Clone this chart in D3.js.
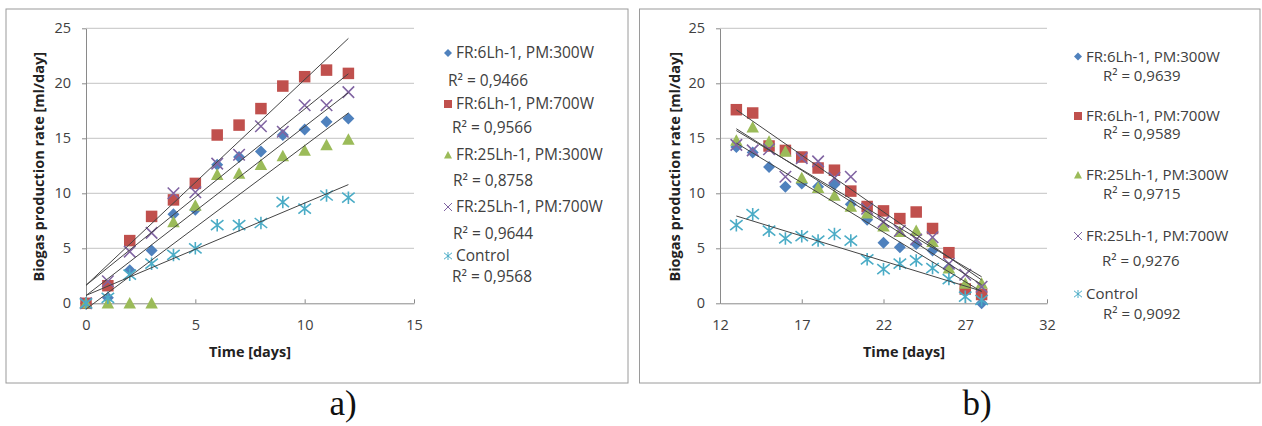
<!DOCTYPE html>
<html><head><meta charset="utf-8">
<script src="https://cdn.jsdelivr.net/npm/d3@7"></script>
<style>body{margin:0;background:#fff}svg{display:block}</style>
</head><body><svg id="c" width="1262" height="426"></svg>
<script>
// ---------------- DATA ----------------
const seriesLabels = ["FR:6Lh-1, PM:300W", "FR:6Lh-1, PM:700W", "FR:25Lh-1, PM:300W", "FR:25Lh-1, PM:700W", "Control"];

// Panel a) – start-up period
const daysA = [0, 1, 2, 3, 4, 5, 6, 7, 8, 9, 10, 11, 12];
const a_FR6_PM300  = [0, 0.5, 3.0, 4.8, 8.1, 8.5, 12.6, 13.3, 13.8, 15.3, 15.8, 16.5, 16.8];
const a_FR6_PM700  = [0, 1.6, 5.7, 7.9, 9.4, 10.9, 15.3, 16.2, 17.7, 19.75, 20.6, 21.2, 20.9];
const a_FR25_PM300 = [0, 0, 0, 0, 7.4, 8.9, 11.7, 11.8, 12.6, 13.4, 13.9, 14.4, 14.9];
const a_FR25_PM700 = [0, 2.0, 4.7, 6.4, 10.0, 10.1, 12.7, 13.5, 16.1, 15.6, 18.0, 18.0, 19.2];
const a_Control    = [0, 0.5, 2.6, 3.6, 4.4, 5.0, 7.1, 7.1, 7.3, 9.2, 8.6, 9.8, 9.6];
const r2A = ["0,9466", "0,9566", "0,8758", "0,9644", "0,9568"];
const xTicksA = [0, 5, 10, 15];

// Panel b) – decline period
const daysB = [13, 14, 15, 16, 17, 18, 19, 20, 21, 22, 23, 24, 25, 26, 27, 28];
const b_FR6_PM300  = [14.2, 13.7, 12.4, 10.6, 10.9, 10.6, 10.8, 9.0, 7.6, 5.5, 5.1, 5.4, 4.8, 3.2, 1.2, 0.0];
const b_FR6_PM700  = [17.6, 17.3, 14.3, 13.9, 13.3, 12.3, 12.1, 10.2, 8.8, 8.4, 7.7, 8.3, 6.8, 4.6, 1.3, 0.8];
const b_FR25_PM300 = [14.8, 16.0, 14.7, 13.8, 11.4, 10.5, 9.8, 8.8, 8.2, 7.0, 6.5, 6.6, 5.6, 3.2, 1.8, 1.8];
const b_FR25_PM700 = [14.4, 13.9, 14.0, 11.5, 13.2, 12.9, 11.4, 11.5, 8.6, 7.4, 6.6, 5.8, 6.0, 3.6, 2.6, 1.5];
const b_Control    = [7.1, 8.1, 6.6, 5.9, 6.1, 5.7, 6.3, 5.7, 4.0, 3.1, 3.6, 3.9, 3.2, 2.2, 0.6, 0.3];
const r2B = ["0,9639", "0,9589", "0,9715", "0,9276", "0,9092"];
const xTicksB = [12, 17, 22, 27, 32];

const yTicks = [0, 5, 10, 15, 20, 25];

// ---------------- STYLE / LAYOUT ----------------
const colors = ["#4F81BD", "#C0504D", "#9BBB59", "#8064A2", "#4BACC6"];
const shapes = ["diamond", "square", "triangle", "x", "star"];
const FONT = "'Open Sans', Lato, sans-serif";

const panels = [
  { frame: [6, 9, 628, 383], xDomain: [0, 15], xRange: [86, 414], yRange: [303.3, 28.3],
    days: daysA, series: [a_FR6_PM300, a_FR6_PM700, a_FR25_PM300, a_FR25_PM700, a_Control], r2: r2A, xTicks: xTicksA,
    yTitleX: 39, xTitleX: 250, tag: "a)", tagX: 343, legendWidth: 138,
    legend: { mx: 448, tx: 456, ty: [53, 104, 155, 207, 256], rx: [448, 452, 453, 453, 452], ry: [81, 128, 181, 234, 277] } },
  { frame: [639.5, 9, 1260, 383], xDomain: [12, 32], xRange: [720, 1047], yRange: [303.3, 28.3],
    days: daysB, series: [b_FR6_PM300, b_FR6_PM700, b_FR25_PM300, b_FR25_PM700, b_Control], r2: r2B, xTicks: xTicksB,
    yTitleX: 675, xTitleX: 904, tag: "b)", tagX: 977, legendWidth: 134,
    legend: { mx: 1078, tx: 1086, ty: [56.5, 116, 175, 236, 294], rx: [1103, 1103, 1103, 1102, 1103], ry: [76, 134, 194, 261, 314] } }
];

const svg = d3.select("#c");

// font size that makes a reference string span a target width
function fitSize(str, weight, target) {
  const t = svg.append("text").attr("font-family", FONT).attr("font-weight", weight).attr("font-size", 100).text(str);
  const w = t.node().getComputedTextLength(); t.remove();
  return w > 0 ? 100 * target / w : 13;
}
const yTitleSize = fitSize("Biogas production rate [ml/day]", "bold", 230);
const xTitleSize = fitSize("Time [days]", "bold", 82);
const tickSize = 14.5;

function symbolPath(shape, s) {
  const h = s / 2;
  switch (shape) {
    case "diamond": return `M0,${-h}L${h},0L0,${h}L${-h},0Z`;
    case "square": return `M${-h},${-h}H${h}V${h}H${-h}Z`;
    case "triangle": return `M0,${-h}L${h},${h * 0.85}L${-h},${h * 0.85}Z`;
    case "x": return `M${-h},${-h}L${h},${h}M${h},${-h}L${-h},${h}`;
    case "star": return `M${-h},${-h * 0.8}L${h},${h * 0.8}M${h},${-h * 0.8}L${-h},${h * 0.8}M0,${-h}V${h}`;
  }
}
function drawMarker(g, shape, color, x, y, s, sw) {
  const stroked = shape === "x" || shape === "star";
  g.append("path").attr("transform", `translate(${x},${y})`).attr("d", symbolPath(shape, s))
    .attr("fill", stroked ? "none" : color).attr("stroke", stroked ? color : "none")
    .attr("stroke-width", stroked ? sw : 0);
}
function linReg(xs, ys) {
  const n = xs.length, mx = d3.mean(xs), my = d3.mean(ys);
  let sxy = 0, sxx = 0;
  for (let i = 0; i < n; i++) { sxy += (xs[i] - mx) * (ys[i] - my); sxx += (xs[i] - mx) ** 2; }
  const b = sxy / sxx; return [my - b * mx, b];
}

svg.insert("rect", ":first-child").attr("width", 1262).attr("height", 426).attr("fill", "#fff");

const markerSizes = { diamond: 12, square: 11.5, triangle: 12.5, x: 11.5, star: 12.5 };

panels.forEach(p => {
  const [x0, y0, x1, y1] = p.frame;
  svg.append("rect").attr("x", x0).attr("y", y0).attr("width", x1 - x0).attr("height", y1 - y0)
    .attr("fill", "#fff").attr("stroke", "#9a9a9a").attr("stroke-width", 1);

  const x = d3.scaleLinear().domain(p.xDomain).range(p.xRange);
  const y = d3.scaleLinear().domain([0, 25]).range(p.yRange);
  const g = svg.append("g");

  // gridlines
  g.append("g").selectAll("line").data(yTicks.filter(t => t > 0)).join("line")
    .attr("x1", p.xRange[0]).attr("x2", p.xRange[1]).attr("y1", d => y(d)).attr("y2", d => y(d))
    .attr("stroke", "#c4c4c4").attr("stroke-width", 1);

  // axes
  const ya = g.append("g").attr("transform", `translate(${p.xRange[0]},0)`)
    .call(d3.axisLeft(y).tickValues(yTicks).tickSizeInner(4).tickSizeOuter(0).tickPadding(11));
  const xa = g.append("g").attr("transform", `translate(0,${p.yRange[0]})`)
    .call(d3.axisBottom(x).tickValues(p.xTicks).tickSizeInner(-4).tickSizeOuter(0).tickPadding(16));
  [ya, xa].forEach(a => {
    a.select(".domain").attr("stroke", "#8a8a8a");
    a.selectAll(".tick line").attr("stroke", "#8a8a8a");
    a.selectAll("text").attr("font-family", FONT).attr("font-size", tickSize).attr("fill", "#404040");
  });

  // markers
  p.series.forEach((vals, si) => {
    const mg = g.append("g");
    vals.forEach((v, i) => drawMarker(mg, shapes[si], colors[si], x(p.days[i]), y(v), markerSizes[shapes[si]], 1.6));
  });
  // linear trendlines
  p.series.forEach(vals => {
    const [a, b] = linReg(p.days, vals);
    const xe = d3.extent(p.days);
    g.append("line").attr("x1", x(xe[0])).attr("y1", y(a + b * xe[0]))
      .attr("x2", x(xe[1])).attr("y2", y(a + b * xe[1]))
      .attr("stroke", "#444").attr("stroke-width", 1);
  });

  // axis titles
  g.append("text").attr("transform", `translate(${p.yTitleX},${(p.yRange[0] + p.yRange[1]) / 2 + 1}) rotate(-90)`)
    .attr("text-anchor", "middle").attr("dy", "0.35em").attr("font-family", FONT).attr("font-weight", "bold")
    .attr("font-size", yTitleSize).attr("fill", "#222").text("Biogas production rate [ml/day]");
  g.append("text").attr("x", p.xTitleX).attr("y", 352).attr("dy", "0.35em").attr("text-anchor", "middle")
    .attr("font-family", FONT).attr("font-weight", "bold").attr("font-size", xTitleSize).attr("fill", "#222").text("Time [days]");

  // legend
  const L = p.legend;
  const legendSize = fitSize("FR:6Lh-1, PM:300W", "normal", p.legendWidth);
  seriesLabels.forEach((lab, si) => {
    drawMarker(g, shapes[si], colors[si], L.mx, L.ty[si], 8, 1);
    g.append("text").attr("x", L.tx).attr("y", L.ty[si]).attr("dy", "0.35em").attr("font-family", FONT)
      .attr("font-size", legendSize).attr("fill", "#404040").text(lab);
    g.append("text").attr("x", L.rx[si]).attr("y", L.ry[si]).attr("dy", "0.35em").attr("font-family", FONT)
      .attr("font-size", legendSize).attr("fill", "#404040").text("R² = " + p.r2[si]);
  });

  // panel tag
  svg.append("text").attr("x", p.tagX).attr("y", 415).attr("text-anchor", "middle")
    .attr("font-family", "'Liberation Serif', 'DejaVu Serif', serif").attr("font-size", 35).attr("fill", "#111").text(p.tag);
});
</script></body></html>
